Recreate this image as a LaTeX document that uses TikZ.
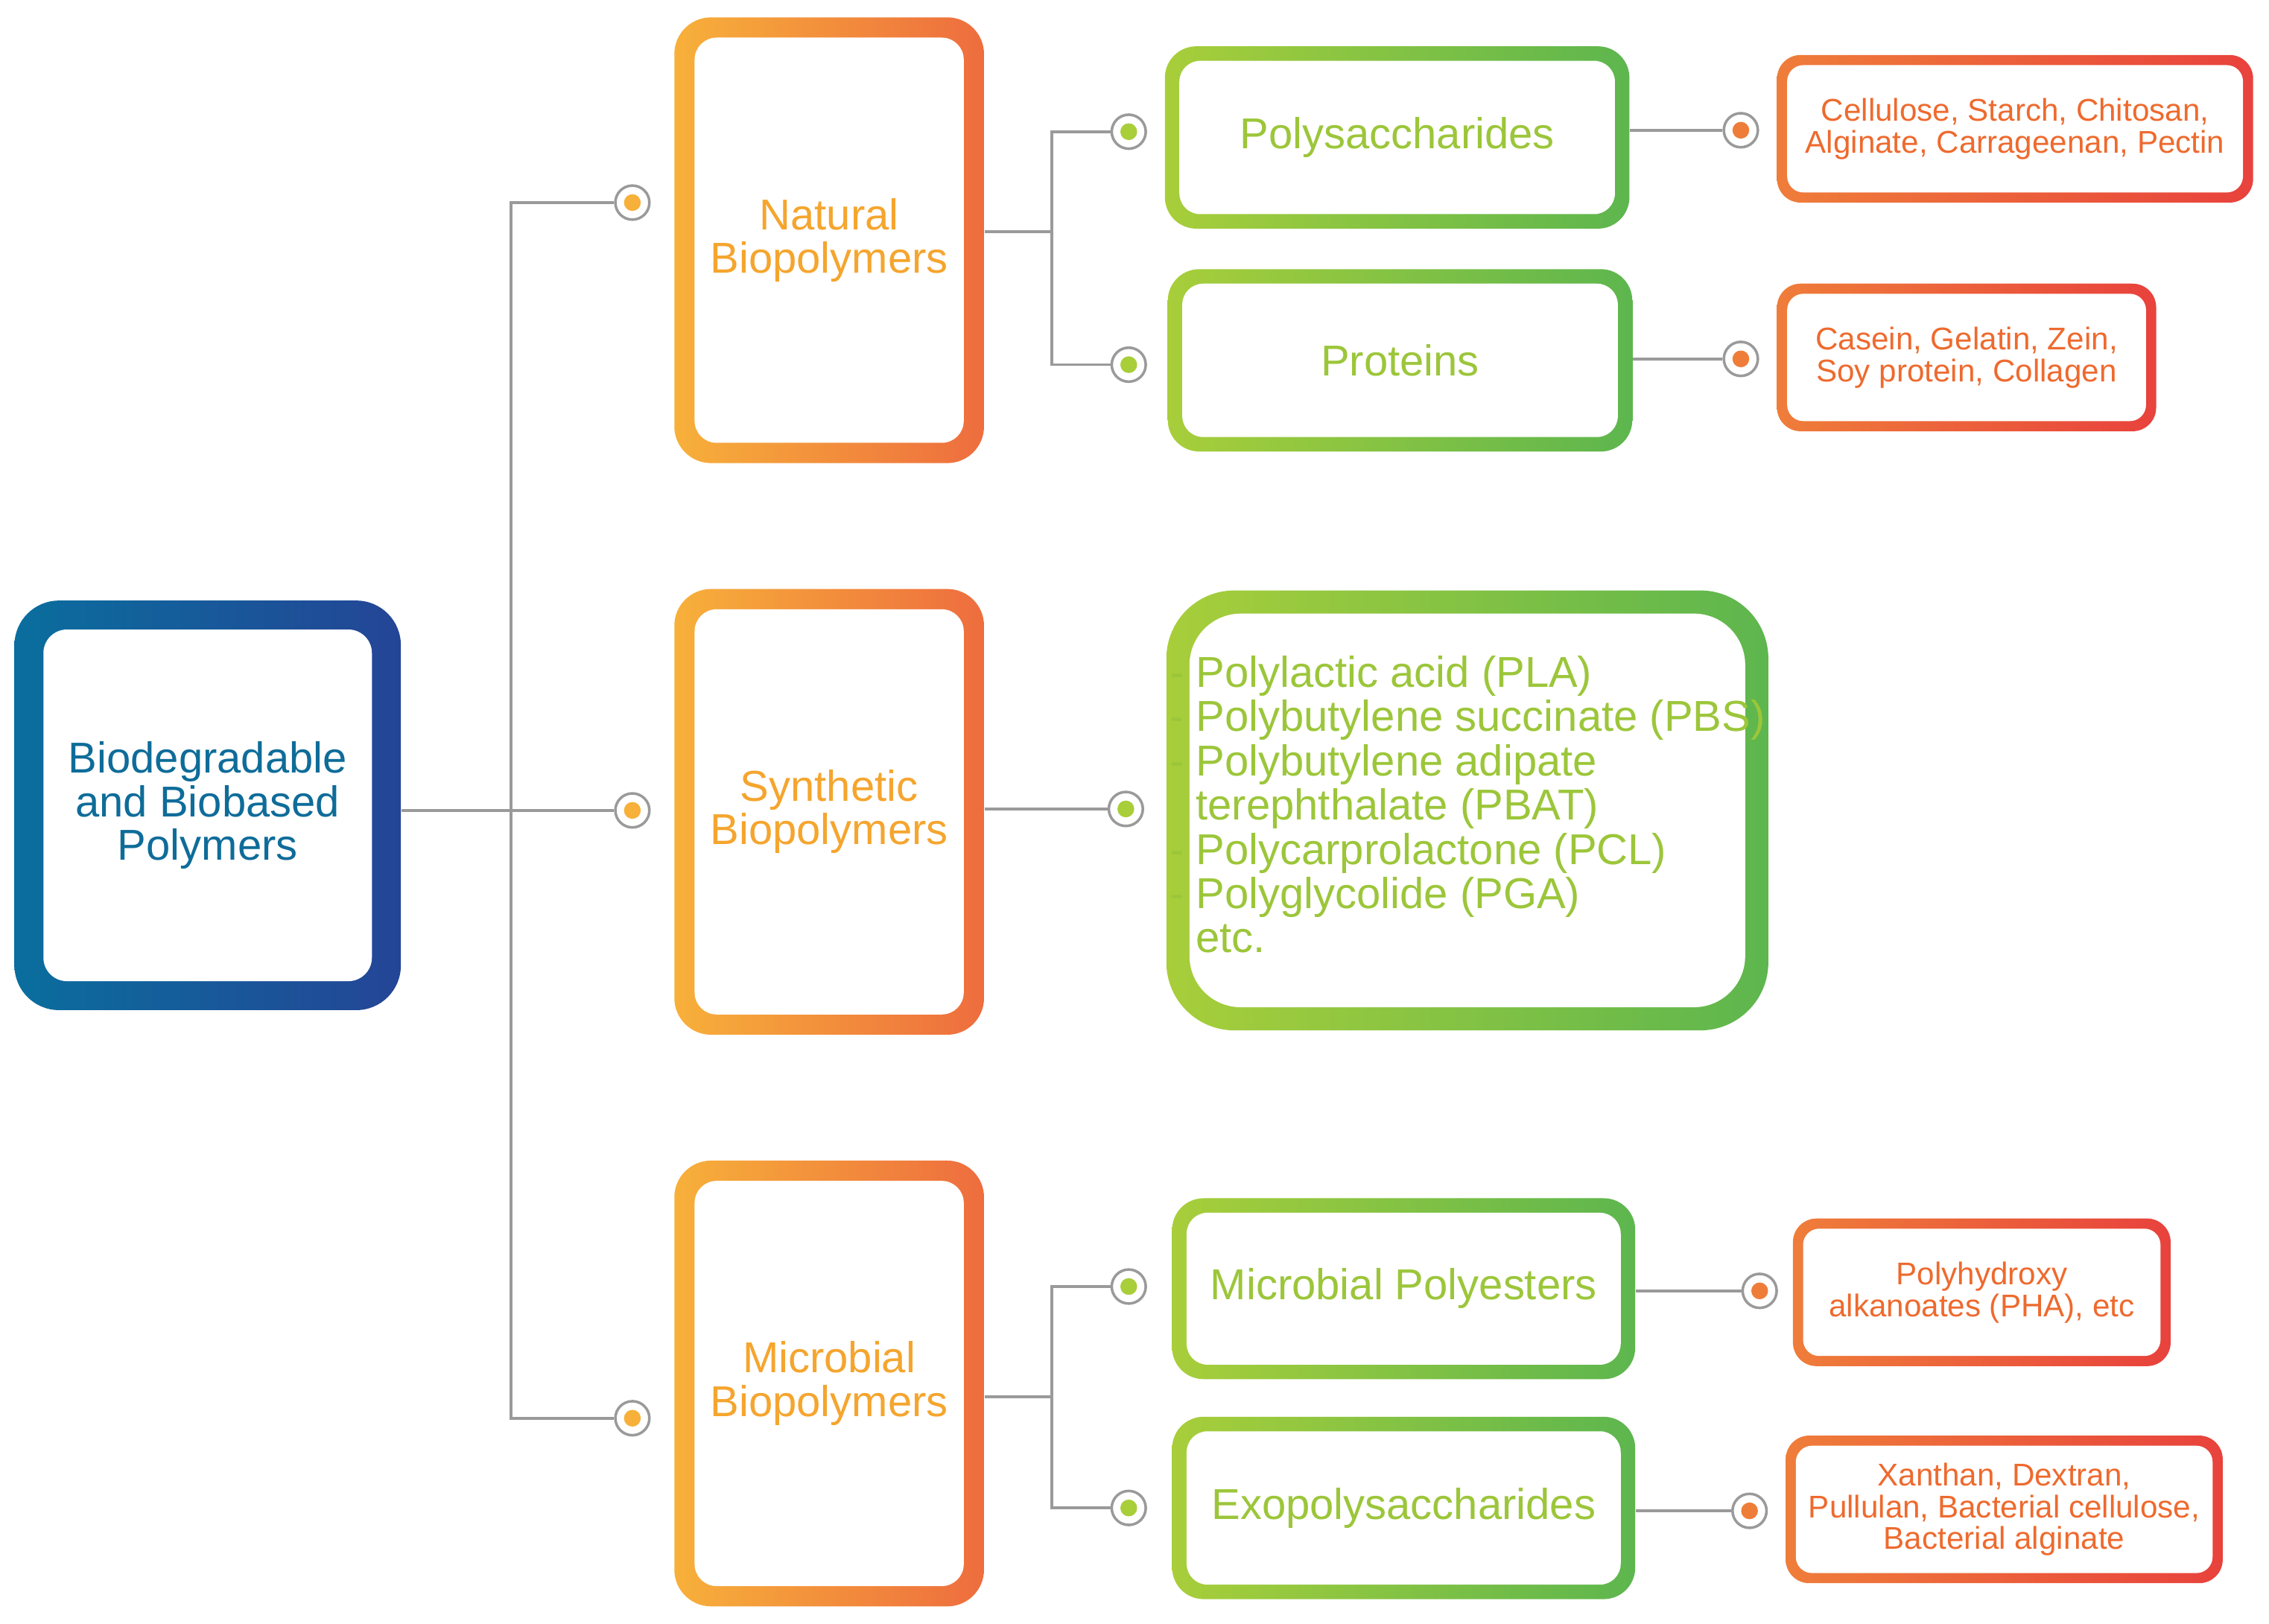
\documentclass[tikz,border=0pt]{standalone}
\usepackage{fontspec}
\setmainfont{Liberation Sans}
\definecolor{roL}{HTML}{0A6E9E}\definecolor{roR}{HTML}{244596}
\definecolor{orL}{HTML}{F7B03A}\definecolor{orR}{HTML}{EE6D3E}
\definecolor{grL}{HTML}{A8CE3A}\definecolor{grR}{HTML}{5DB64E}
\definecolor{reL}{HTML}{EF7D3A}\definecolor{reR}{HTML}{E8423C}
\definecolor{roT}{HTML}{0E6C99}\definecolor{orT}{HTML}{F5A52E}
\definecolor{grT}{HTML}{9CC63A}\definecolor{reT}{HTML}{EE6A2E}
\definecolor{lineC}{HTML}{9A9A9A}
\newcommand\gbox[9]{%
  \shade[left color=#7L,right color=#7R,rounded corners=#8pt] (#2,#3) rectangle (#4,#5);
  \fill[white,rounded corners={#8pt-0.4*#6pt}] ({#2+#6},{#3+#6}) rectangle ({#4-#6},{#5-#6});
  \node[#7text,minimum width={(#4-#2)*0.019426cm},minimum height={(#5-#3)*0.019426cm},inner sep=0pt] (#1) at ({(#2+#4)/2},{(#3+#5)/2}) {#9};}
\begin{document}
\begin{tikzpicture}[x=0.019426cm,y=-0.019426cm,
  big/.style={font=\fontsize{16.5}{16.6}\selectfont,align=center},
  rotext/.style={big,text=roT},
  ortext/.style={big,text=orT},
  grtext/.style={big,text=grT},
  retext/.style={font=\fontsize{12}{12.2}\selectfont,align=center,text=reT},
  conn/.style={draw=lineC,line width=1.1pt},
  mk/.style={circle,draw=lineC,fill=white,line width=1pt,minimum size=13pt,inner sep=0pt,
    path picture={\fill[#1] (path picture bounding box.center) circle (3.2pt);}}]
\useasboundingbox (0,0) rectangle (1568,1122);
\coordinate (j1) at (353,560);
\coordinate (j2) at (727,160);
\coordinate (j3) at (727,965);
\node[mk=orL] (m1) at (437,140) {};
\node[mk=orL] (m2) at (437,560) {};
\node[mk=orL] (m3) at (437,980) {};
\node[mk=grL] (m4) at (780,91) {};
\node[mk=grL] (m5) at (780,252) {};
\node[mk=grL] (m6) at (778,559) {};
\node[mk=grL] (m7) at (780,889) {};
\node[mk=grL] (m8) at (780,1042) {};
\node[mk=reL] (m9) at (1203,90) {};
\node[mk=reL] (m10) at (1203,248) {};
\node[mk=reL] (m11) at (1216,892) {};
\node[mk=reL] (m12) at (1209,1044) {};
\gbox{root}{10}{415}{277}{698}{20}{ro}{17}{Biodegradable\\and Biobased\\Polymers}
\gbox{nat}{466}{12}{680}{320}{14}{or}{14}{Natural\\Biopolymers}
\gbox{syn}{466}{407}{680}{715}{14}{or}{14}{Synthetic\\Biopolymers}
\gbox{mic}{466}{802}{680}{1110}{14}{or}{14}{Microbial\\Biopolymers}
\gbox{poly}{805}{32}{1126}{158}{10}{gr}{12}{Polysaccharides}
\gbox{prot}{807}{186}{1128}{312}{10}{gr}{12}{Proteins}
\gbox{list}{806}{408}{1222}{712}{16}{gr}{26}{\begin{tabular}{@{}l@{}}- Polylactic acid (PLA)\\- Polybutylene succinate (PBS)\\- Polybutylene adipate\\\phantom{- }terephthalate (PBAT)\\- Polycarprolactone (PCL)\\- Polyglycolide (PGA)\\\phantom{- }etc.\end{tabular}}
\gbox{mpe}{810}{828}{1130}{953}{10}{gr}{12}{Microbial Polyesters}
\gbox{exo}{810}{979}{1130}{1105}{10}{gr}{12}{Exopolysaccharides}
\gbox{r1}{1228}{38}{1557}{140}{7}{re}{9}{Cellulose, Starch, Chitosan,\\Alginate, Carrageenan, Pectin}
\gbox{r2}{1228}{196}{1490}{298}{7}{re}{9}{Casein, Gelatin, Zein,\\Soy protein, Collagen}
\gbox{r3}{1239}{842}{1500}{944}{7}{re}{9}{Polyhydroxy\\alkanoates (PHA), etc}
\gbox{r4}{1234}{992}{1536}{1094}{7}{re}{9}{Xanthan, Dextran,\\Pullulan, Bacterial cellulose,\\Bacterial alginate}
\draw[conn] (root.east |- m2) -- (m2);
\draw[conn] (m1) -| (j1) |- (m3);
\draw[conn] (nat.east |- j2) -- (j2);
\draw[conn] (m4) -| (j2) |- (m5);
\draw[conn] (syn.east |- m6) -- (m6);
\draw[conn] (mic.east |- j3) -- (j3);
\draw[conn] (m7) -| (j3) |- (m8);
\draw[conn] (poly.east |- m9) -- (m9);
\draw[conn] (prot.east |- m10) -- (m10);
\draw[conn] (mpe.east |- m11) -- (m11);
\draw[conn] (exo.east |- m12) -- (m12);
\end{tikzpicture}
\end{document}
